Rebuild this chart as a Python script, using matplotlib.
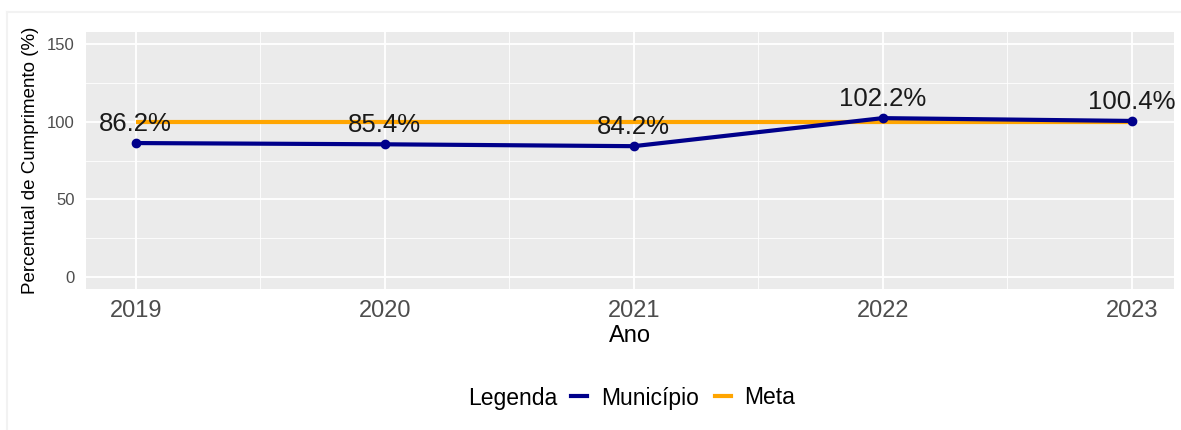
import matplotlib.pyplot as plt
from matplotlib.lines import Line2D

plt.rcParams['font.family'] = ['Liberation Sans', 'DejaVu Sans']

anos = [2019, 2020, 2021, 2022, 2023]
municipio = [86.2, 85.4, 84.2, 102.2, 100.4]
meta = [100, 100, 100, 100, 100]
rotulos = ["86.2%", "85.4%", "84.2%", "102.2%", "100.4%"]

cor_mun = "#00008B"
cor_meta = "#FFA500"

fig = plt.figure(figsize=(11.81, 4.30), dpi=100)
ax = fig.add_axes([86 / 1181, 1 - 289 / 430, (1174 - 86) / 1181, (289 - 32) / 430])

# faint outer frame like the source export
fig.add_artist(Line2D([7 / 1181, 1], [1 - 12 / 430, 1 - 12 / 430], color="#F2F2F2", lw=1.5))
fig.add_artist(Line2D([7 / 1181, 7 / 1181], [0, 1 - 12 / 430], color="#F2F2F2", lw=1.5))

ax.set_facecolor("#EBEBEB")
for s in ax.spines.values():
    s.set_visible(False)

ax.plot(anos, meta, color=cor_meta, lw=3, solid_capstyle="butt", zorder=3)
ax.plot(anos, municipio, color=cor_mun, lw=3, marker="o", ms=6, zorder=4)
for a, v, r in zip(anos, municipio, rotulos):
    ax.annotate(r, (a, v), xytext=(0, 5), textcoords="offset points",
                ha="center", va="bottom", fontsize=18.5, color="#1A1A1A", zorder=5)

ax.set_xlim(2018.8, 2023.17)
ax.set_ylim(-7.5, 157.5)
ax.set_xticks(anos)
ax.set_yticks([0, 50, 100, 150])
ax.set_xticks([2019.5, 2020.5, 2021.5, 2022.5], minor=True)
ax.set_yticks([25, 75, 125], minor=True)
ax.grid(which="major", color="white", lw=1.3)
ax.grid(which="minor", color="white", lw=0.6)
ax.set_axisbelow(True)
ax.tick_params(which="both", length=0)
ax.tick_params(axis="x", labelsize=17, labelcolor="#4D4D4D", pad=8)
ax.tick_params(axis="y", labelsize=12, labelcolor="#4D4D4D", pad=8)

ax.set_xlabel("Ano", fontsize=17, color="black", labelpad=2)
ax.set_ylabel("Percentual de Cumprimento (%)", fontsize=13.5, color="black", labelpad=6)

fig.text(557 / 1181, 1 - 398 / 430, "Legenda", ha="right", va="center", fontsize=16.5)
handles = [Line2D([], [], color=cor_mun, lw=3), Line2D([], [], color=cor_meta, lw=3)]
fig.legend(handles, ["Município", "Meta"], ncol=2, frameon=False,
           loc="center left", bbox_to_anchor=(571 / 1181, 1 - 398 / 430),
           fontsize=16.5, handlelength=0.7, handletextpad=0.6, columnspacing=0.7,
           borderaxespad=0, borderpad=0)

fig.savefig("out.png", dpi=100)
